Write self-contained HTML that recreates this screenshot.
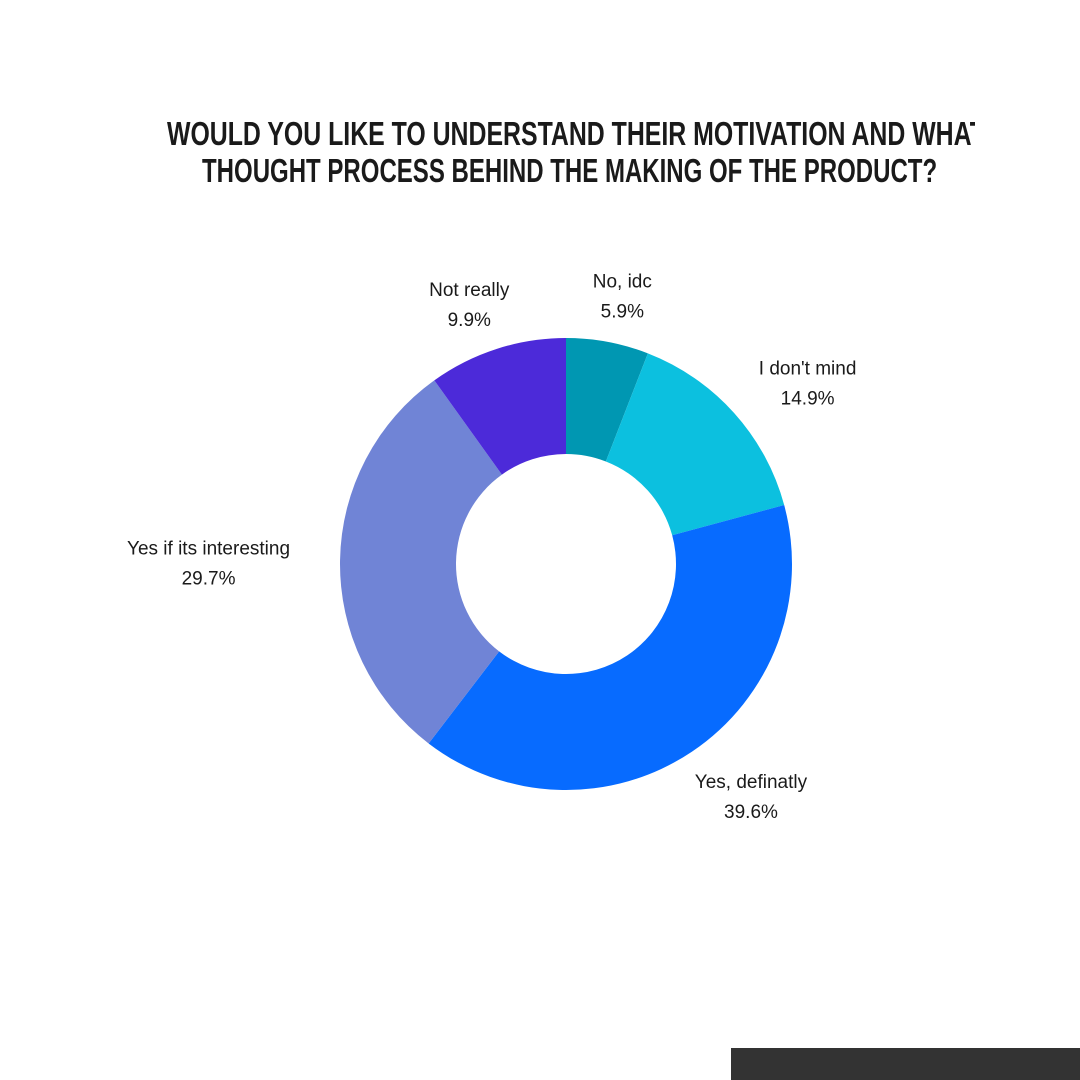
<!DOCTYPE html>
<html>
<head>
<meta charset="utf-8">
<style>
  html,body{margin:0;padding:0;background:#fff;}
  body{width:1080px;height:1080px;position:relative;overflow:hidden;font-family:"Liberation Sans",sans-serif;}
  .clip{position:absolute;left:0;top:0;width:975px;height:200px;overflow:hidden;}
  .tl{position:absolute;white-space:nowrap;font-family:"Liberation Sans",sans-serif;font-weight:bold;font-size:33px;line-height:33px;color:#1a1a1a;transform-origin:0 0;}
  .footer-bar{position:absolute;left:731px;top:1048px;width:349px;height:32px;background:#333;}
</style>
</head>
<body>
<div class="clip">
  <div class="tl" id="t1" style="left:167px;top:117px;">WOULD YOU LIKE TO UNDERSTAND THEIR MOTIVATION AND WHAT</div>
  <div class="tl" id="t2" style="left:202px;top:154px;">THOUGHT PROCESS BEHIND THE MAKING OF THE PRODUCT?</div>
</div>
<svg id="chart" width="1080" height="1080" style="position:absolute;left:0;top:0"></svg>
<div class="footer-bar"></div>
<script>
const categories = ["No, idc","I don't mind","Yes, definatly","Yes if its interesting","Not really"];
const values = [5.9,14.9,39.6,29.7,9.9];
const valueLabels = ["5.9%","14.9%","39.6%","29.7%","9.9%"];
const colors = ["#0097b2","#0cc0df","#076bff","#7084d6","#4c2ad9"];

[["t1",818],["t2",735]].forEach(([id,w])=>{
  const el=document.getElementById(id);
  const s=w/el.scrollWidth;
  el.style.transform='scaleX('+s+')';
});

const cx=566, cy=564, R=226, r=110;
const svg=document.getElementById('chart');
const NS="http://www.w3.org/2000/svg";
const total=values.reduce((a,b)=>a+b,0);
function pt(rad,a){return [cx+rad*Math.sin(a), cy-rad*Math.cos(a)];}
let start=0;
values.forEach((v,i)=>{
  const sweep=v/total*2*Math.PI, end=start+sweep;
  const large=sweep>Math.PI?1:0;
  const [x1,y1]=pt(R,start),[x2,y2]=pt(R,end),[x3,y3]=pt(r,end),[x4,y4]=pt(r,start);
  const p=document.createElementNS(NS,'path');
  p.setAttribute('d',`M${x1},${y1} A${R},${R} 0 ${large} 1 ${x2},${y2} L${x3},${y3} A${r},${r} 0 ${large} 0 ${x4},${y4} Z`);
  p.setAttribute('fill',colors[i]);
  
  
  svg.appendChild(p);
  start=end;
});
start=0;
values.forEach((v,i)=>{
  const sweep=v/total*2*Math.PI;
  const mid=start+sweep/2;
  start+=sweep;
  const t1=document.createElementNS(NS,'text');
  t1.setAttribute('text-anchor','middle');t1.setAttribute('font-size','19');t1.setAttribute('fill','#1a1a1a');
  t1.setAttribute('font-family','Liberation Sans, sans-serif');
  t1.textContent=categories[i];
  
  
  svg.appendChild(t1);
  const t2=document.createElementNS(NS,'text');
  t2.setAttribute('text-anchor','middle');t2.setAttribute('font-size','19');t2.setAttribute('fill','#1a1a1a');
  t2.setAttribute('font-family','Liberation Sans, sans-serif');
  t2.textContent=valueLabels[i];
  
  
  svg.appendChild(t2);
  const hw=t1.getComputedTextLength()/2;
  let [lx,ly]=pt(R+50,mid);
  lx+=hw*Math.sin(mid);
  t1.setAttribute('x',lx);t1.setAttribute('y',ly-5);
  t2.setAttribute('x',lx);t2.setAttribute('y',ly+25);
});
</script>
</body>
</html>
